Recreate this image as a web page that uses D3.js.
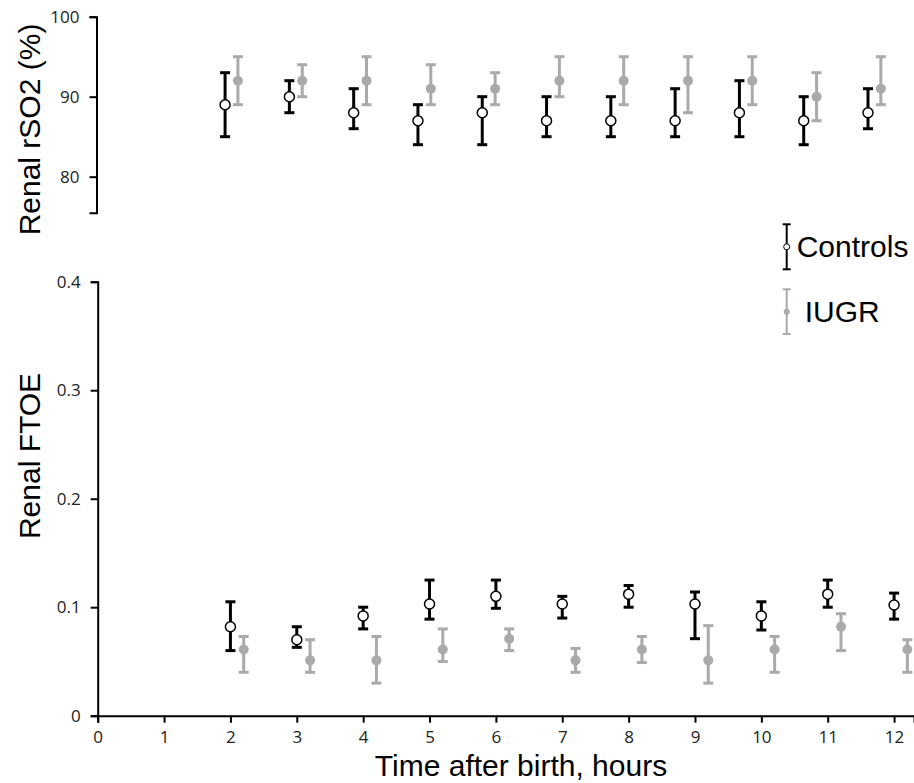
<!DOCTYPE html>
<html>
<head>
<meta charset="utf-8">
<script src="https://cdn.jsdelivr.net/npm/d3@7"></script>
<style>
  body { margin: 0; background: #fff; }
  .tick text { font-family: "Open Sans", sans-serif; font-size: 17px; fill: #222; }
  .axis path, .axis line { stroke: #000; stroke-width: 2px; }
  .title { font-family: "Liberation Sans", Arial, sans-serif; font-size: 30px; fill: #000; }
</style>
</head>
<body>
<div id="chart"></div>
<script>
// hours after birth
const hours = [2, 3, 4, 5, 6, 7, 8, 9, 10, 11, 12];

// renal rSO2 (%) - mean, lower, upper
const rso2Controls = [89, 90, 88, 87, 88, 87, 87, 87, 88, 87, 88];
const rso2ControlsLo = [85, 88, 86, 84, 84, 85, 85, 85, 85, 84, 86];
const rso2ControlsHi = [93, 92, 91, 89, 90, 90, 90, 91, 92, 90, 91];
const rso2Iugr = [92, 92, 92, 91, 91, 92, 92, 92, 92, 90, 91];
const rso2IugrLo = [89, 90, 89, 89, 89, 90, 89, 88, 89, 87, 89];
const rso2IugrHi = [95, 94, 95, 94, 93, 95, 95, 95, 95, 93, 95];

// renal FTOE - mean, lower, upper
const ftoeControls = [0.082, 0.070, 0.092, 0.103, 0.110, 0.103, 0.112, 0.103, 0.092, 0.112, 0.102];
const ftoeControlsLo = [0.060, 0.063, 0.080, 0.089, 0.099, 0.090, 0.100, 0.071, 0.079, 0.100, 0.089];
const ftoeControlsHi = [0.105, 0.082, 0.100, 0.125, 0.125, 0.110, 0.120, 0.114, 0.105, 0.125, 0.113];
const ftoeIugr = [0.061, 0.051, 0.051, 0.061, 0.071, 0.051, 0.061, 0.051, 0.061, 0.082, 0.061];
const ftoeIugrLo = [0.040, 0.040, 0.030, 0.050, 0.060, 0.040, 0.049, 0.030, 0.040, 0.060, 0.040];
const ftoeIugrHi = [0.073, 0.070, 0.073, 0.080, 0.080, 0.062, 0.073, 0.083, 0.073, 0.094, 0.070];

const xTicks = [0, 1, 2, 3, 4, 5, 6, 7, 8, 9, 10, 11, 12];
const rso2Ticks = [80, 90, 100];
const ftoeTicks = [0, 0.1, 0.2, 0.3, 0.4];

const iugrShift = 0.2;
const black = "#000";
const grey = "#aaaaaa";

const width = 914, height = 783;

const svg = d3.select("#chart").append("svg")
    .attr("width", width)
    .attr("height", height);

// scales
const xTop = d3.scaleLinear().domain([0, 12]).range([96.5, 868]);
const yTop = d3.scaleLinear().domain([75.5, 100]).range([212.7, 16.7]);

const xBot = d3.scaleLinear().domain([0, 12.3]).range([97.7, 914]);
const yBot = d3.scaleLinear().domain([0, 0.4]).range([715.7, 281.7]);

// axes
svg.append("g")
    .attr("class", "axis")
    .attr("transform", `translate(${xTop(0)},0)`)
    .call(d3.axisLeft(yTop).tickValues(rso2Ticks).tickSizeOuter(0).tickSize(7).tickPadding(10));

svg.append("g")
    .attr("class", "axis")
    .attr("transform", `translate(${xBot(0)},0)`)
    .call(d3.axisLeft(yBot).tickValues(ftoeTicks).tickFormat(d => d === 0 ? "0" : d3.format(".1f")(d))
        .tickSizeOuter(0).tickSize(7).tickPadding(10));

svg.append("g")
    .attr("class", "axis")
    .attr("transform", `translate(0,${yBot(0)})`)
    .call(d3.axisBottom(xBot).tickValues(xTicks).tickSizeOuter(0).tickSize(7).tickPadding(8));

// axis titles
svg.append("text")
    .attr("class", "title")
    .attr("transform", "translate(40,129.5) rotate(-90)")
    .attr("text-anchor", "middle")
    .text("Renal rSO2 (%)");

svg.append("text")
    .attr("class", "title")
    .attr("transform", "translate(40,456) rotate(-90)")
    .attr("text-anchor", "middle")
    .text("Renal FTOE");

svg.append("text")
    .attr("class", "title")
    .attr("x", 521)
    .attr("y", 776)
    .attr("text-anchor", "middle")
    .text("Time after birth, hours");

// error bar helper
function drawSeries(x, y, mean, lo, hi, shift, color, filled) {
    const rows = hours.map((h, i) => ({h: h + shift, m: mean[i], lo: lo[i], hi: hi[i]}));
    const g = svg.append("g");
    const bars = g.selectAll("g").data(rows).enter().append("g");

    bars.append("line")
        .attr("x1", d => x(d.h)).attr("x2", d => x(d.h))
        .attr("y1", d => y(d.lo)).attr("y2", d => y(d.hi))
        .attr("stroke", color).attr("stroke-width", 3);

    ["lo", "hi"].forEach(k => {
        bars.append("line")
            .attr("x1", d => x(d.h) - 5).attr("x2", d => x(d.h) + 5)
            .attr("y1", d => y(d[k])).attr("y2", d => y(d[k]))
            .attr("stroke", color).attr("stroke-width", 3);
    });

    bars.append("circle")
        .attr("cx", d => x(d.h))
        .attr("cy", d => y(d.m))
        .attr("r", 5)
        .attr("fill", filled ? color : "#fff")
        .attr("stroke", filled ? "none" : color)
        .attr("stroke-width", 1.5);
}

drawSeries(xTop, yTop, rso2Controls, rso2ControlsLo, rso2ControlsHi, 0, black, false);
drawSeries(xTop, yTop, rso2Iugr, rso2IugrLo, rso2IugrHi, iugrShift, grey, true);
drawSeries(xBot, yBot, ftoeControls, ftoeControlsLo, ftoeControlsHi, 0, black, false);
drawSeries(xBot, yBot, ftoeIugr, ftoeIugrLo, ftoeIugrHi, iugrShift, grey, true);

// legend
const legend = svg.append("g").attr("transform", "translate(786.7,0)");
const legendItems = [
    {name: "Controls", color: black, filled: false, y1: 224.3, y2: 269.3, tx: 10},
    {name: "IUGR", color: grey, filled: true, y1: 289.3, y2: 334, tx: 18}
];
legendItems.forEach(d => {
    const mid = (d.y1 + d.y2) / 2;
    legend.append("line").attr("x1", 0).attr("x2", 0).attr("y1", d.y1).attr("y2", d.y2)
        .attr("stroke", d.color).attr("stroke-width", 2);
    [d.y1, d.y2].forEach(yy => legend.append("line")
        .attr("x1", -4).attr("x2", 4).attr("y1", yy).attr("y2", yy)
        .attr("stroke", d.color).attr("stroke-width", 2));
    legend.append("circle").attr("cx", 0).attr("cy", mid).attr("r", 3)
        .attr("fill", d.filled ? d.color : "#fff")
        .attr("stroke", d.filled ? "none" : d.color).attr("stroke-width", 1);
    legend.append("text")
        .attr("class", "title")
        .attr("x", d.tx).attr("y", mid + 10.5)
        .text(d.name);
});
</script>
</body>
</html>
